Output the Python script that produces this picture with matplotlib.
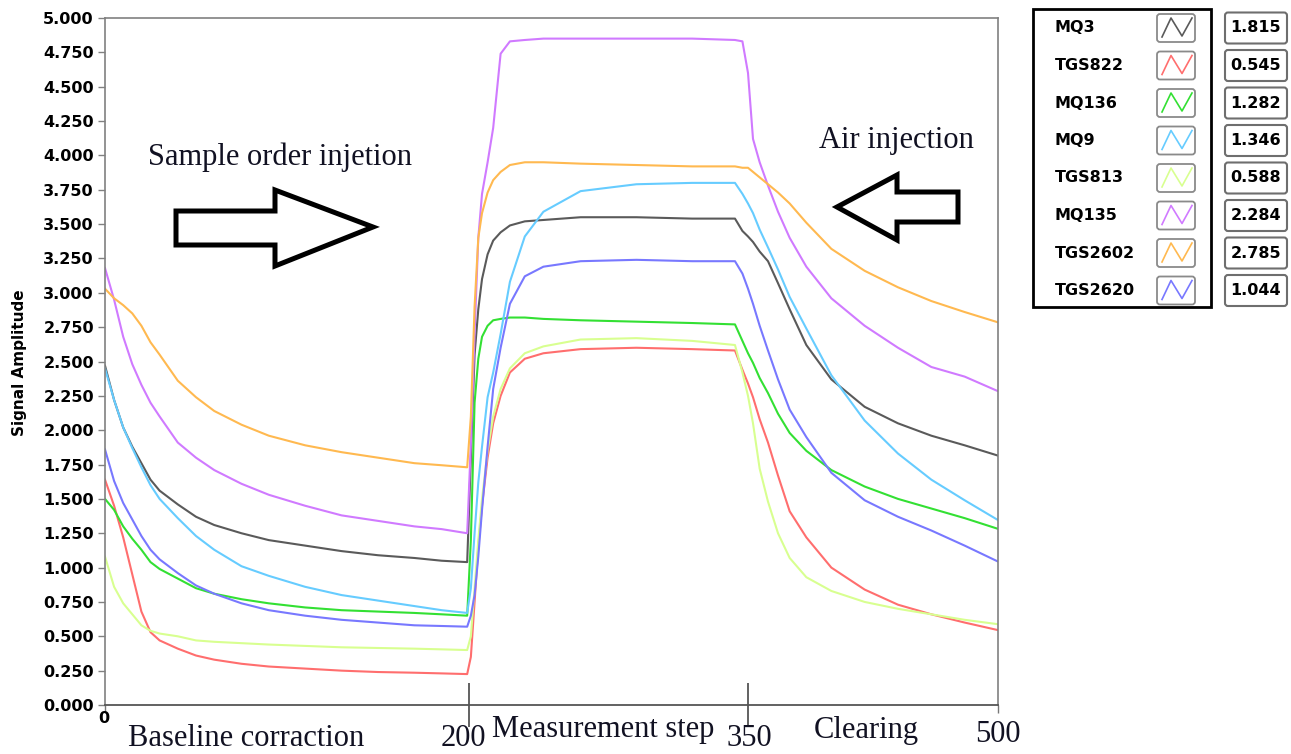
import numpy as np
import matplotlib
matplotlib.use("Agg")
import matplotlib.pyplot as plt
from matplotlib import transforms
from matplotlib.patches import Polygon, Rectangle, FancyBboxPatch
from matplotlib.lines import Line2D

W, H = 1291, 754

# time axis (samples) shared by all sensors
t = [0, 5, 10, 15, 20, 25, 30, 40, 50, 60, 75, 90, 110, 130, 150, 170, 185, 199,
     201, 203, 205, 207, 210, 213, 217, 222, 230, 240, 260, 290, 320, 343,
     347, 350, 353, 357, 362, 368, 375, 385, 400, 420, 440, 460, 480, 500]

mq3 = [2.47, 2.22, 2.02, 1.88, 1.76, 1.64, 1.56, 1.46, 1.37, 1.31, 1.25, 1.20, 1.16, 1.12, 1.09, 1.07, 1.05, 1.04,
       1.80, 2.55, 2.88, 3.10, 3.28, 3.38, 3.44, 3.49, 3.52, 3.53, 3.55, 3.55, 3.54, 3.54,
       3.45, 3.41, 3.37, 3.30, 3.23, 3.07, 2.88, 2.62, 2.37, 2.17, 2.05, 1.96, 1.89, 1.815]
tgs822 = [1.64, 1.45, 1.22, 0.95, 0.68, 0.53, 0.47, 0.41, 0.36, 0.33, 0.30, 0.28, 0.265, 0.25, 0.24, 0.235, 0.23, 0.225,
          0.35, 0.75, 1.15, 1.45, 1.80, 2.05, 2.25, 2.42, 2.52, 2.56, 2.59, 2.60, 2.59, 2.58,
          2.44, 2.34, 2.24, 2.08, 1.91, 1.67, 1.41, 1.22, 1.00, 0.84, 0.73, 0.66, 0.60, 0.545]
mq136 = [1.50, 1.42, 1.30, 1.21, 1.13, 1.04, 0.99, 0.92, 0.85, 0.81, 0.77, 0.74, 0.71, 0.69, 0.68, 0.67, 0.66, 0.65,
         1.20, 2.20, 2.52, 2.68, 2.76, 2.80, 2.81, 2.82, 2.82, 2.81, 2.80, 2.79, 2.78, 2.77,
         2.65, 2.56, 2.49, 2.38, 2.27, 2.12, 1.98, 1.85, 1.71, 1.59, 1.50, 1.43, 1.36, 1.282]
mq9 = [2.45, 2.22, 2.02, 1.87, 1.73, 1.60, 1.50, 1.36, 1.23, 1.13, 1.01, 0.94, 0.86, 0.80, 0.76, 0.72, 0.69, 0.67,
       0.85, 1.25, 1.62, 1.88, 2.24, 2.42, 2.70, 3.08, 3.41, 3.59, 3.74, 3.79, 3.80, 3.80,
       3.72, 3.65, 3.58, 3.46, 3.33, 3.17, 2.97, 2.74, 2.40, 2.07, 1.83, 1.64, 1.49, 1.346]
tgs813 = [1.08, 0.86, 0.74, 0.66, 0.58, 0.54, 0.52, 0.50, 0.47, 0.46, 0.45, 0.44, 0.43, 0.42, 0.415, 0.41, 0.405, 0.40,
          0.50, 0.85, 1.20, 1.50, 1.85, 2.10, 2.30, 2.45, 2.56, 2.61, 2.66, 2.67, 2.65, 2.62,
          2.42, 2.25, 2.05, 1.72, 1.48, 1.25, 1.07, 0.93, 0.83, 0.75, 0.70, 0.66, 0.62, 0.588]
mq135 = [3.18, 2.95, 2.68, 2.48, 2.33, 2.20, 2.10, 1.91, 1.80, 1.71, 1.61, 1.53, 1.45, 1.38, 1.34, 1.30, 1.28, 1.25,
         1.90, 2.70, 3.40, 3.72, 3.95, 4.20, 4.74, 4.83, 4.84, 4.85, 4.85, 4.85, 4.85, 4.84,
         4.83, 4.60, 4.12, 3.95, 3.78, 3.59, 3.40, 3.19, 2.96, 2.76, 2.60, 2.46, 2.39, 2.284]
tgs2602 = [3.03, 2.96, 2.91, 2.85, 2.76, 2.64, 2.55, 2.36, 2.24, 2.14, 2.04, 1.96, 1.89, 1.84, 1.80, 1.76, 1.745, 1.73,
           2.10, 2.90, 3.40, 3.58, 3.73, 3.82, 3.88, 3.93, 3.95, 3.95, 3.94, 3.93, 3.92, 3.92,
           3.91, 3.91, 3.88, 3.84, 3.79, 3.73, 3.65, 3.51, 3.32, 3.16, 3.04, 2.94, 2.86, 2.785]
tgs2620 = [1.86, 1.63, 1.47, 1.35, 1.23, 1.13, 1.06, 0.96, 0.87, 0.81, 0.74, 0.69, 0.65, 0.62, 0.60, 0.58, 0.575, 0.57,
           0.65, 0.80, 1.08, 1.42, 1.88, 2.30, 2.60, 2.92, 3.12, 3.19, 3.23, 3.24, 3.23, 3.23,
           3.14, 3.03, 2.92, 2.76, 2.58, 2.37, 2.15, 1.95, 1.69, 1.49, 1.37, 1.27, 1.16, 1.044]

sensors = ["MQ3", "TGS822", "MQ136", "MQ9", "TGS813", "MQ135", "TGS2602", "TGS2620"]
series = [mq3, tgs822, mq136, mq9, tgs813, mq135, tgs2602, tgs2620]
colors = ["#5a5a5a", "#ff6e6e", "#33e033", "#66ccff", "#d8ff90", "#d07aff", "#ffb950", "#7878ff"]

y_ticks = np.arange(0, 5.001, 0.25)
phase_ticks = [200, 350]

# the phases are not drawn to the same width in the original: piecewise linear x scale
phase_edges = [0, 200, 350, 500]
phase_span = [0, 364, 643, 893]

def fwd(x):
    return np.interp(x, phase_edges, phase_span)

def inv(x):
    return np.interp(x, phase_span, phase_edges)

SERIF = "Liberation Serif"
SANS = "DejaVu Sans"

fig = plt.figure(figsize=(W / 100, H / 100), dpi=100)
ax = fig.add_axes([105 / W, 1 - 705 / H, (998 - 105) / W, (705 - 18) / H])
ax.set_xscale("function", functions=(fwd, inv))

for name, vals, c in zip(sensors, series, colors):
    ax.plot(t, vals, color=c, lw=1.5, label=name)

ax.set_xlim(0, 500)
ax.set_ylim(0, 5)
ax.set_yticks(y_ticks)
ax.set_yticklabels([f"{v:.3f}" for v in y_ticks], fontweight="bold", fontsize=11.5, family=SANS)
ax.tick_params(axis="y", direction="out", length=5, width=1, color="#808080", pad=3)

ax.set_xticks(phase_ticks)
ax.set_xticklabels([])
ax.tick_params(axis="x", which="major", direction="inout", length=32, width=1.3, color="#555555")
ax.set_xticks([0, 500], minor=True)
ax.set_xticklabels([], minor=True)
ax.tick_params(axis="x", which="minor", direction="out", length=6, width=1, color="#777777")

for side in ["left", "top", "right"]:
    ax.spines[side].set_color("#808080")
    ax.spines[side].set_linewidth(1.2)
ax.spines["bottom"].set_color("#555555")
ax.spines["bottom"].set_linewidth(1.3)

# pixel helper: (x, y from top) -> figure fraction
def px(x, y):
    return x / W, 1 - y / H

pix = transforms.Affine2D().scale(1 / W, 1 / H) + fig.transFigure

fig.text(*px(20, 363), "Signal Amplitude", rotation=90, fontsize=11, fontweight="bold",
         family=SANS, ha="center", va="center")

# x axis labels
fig.text(*px(104, 723), "0", fontsize=11.5, fontweight="bold", family=SANS, ha="center", va="baseline")
for s, x, y in [("Baseline corraction", 246, 746), ("200", 463, 746), ("Measurement step", 603, 737),
                ("350", 749, 746), ("Clearing", 866, 738), ("500", 998, 742)]:
    fig.text(*px(x, y), s, fontsize=22, family=SERIF, ha="center", va="baseline", color="#111122")

fig.text(*px(280, 165), "Sample order injetion", fontsize=22, family=SERIF, ha="center",
         va="baseline", color="#111122")
fig.text(*px(896, 148), "Air injection", fontsize=22, family=SERIF, ha="center",
         va="baseline", color="#111122")

# outline arrows
right_arrow = [(176, 211), (275, 211), (275, 190), (373, 227), (275, 266), (275, 245), (176, 245)]
left_arrow = [(837, 207), (897, 175), (897, 192), (958, 192), (958, 222), (897, 222), (897, 240)]
for pts in (right_arrow, left_arrow):
    fig.patches.append(Polygon([(x, H - y) for x, y in pts], closed=True, transform=pix,
                               facecolor="white", edgecolor="black", lw=3.6, joinstyle="miter"))

# legend panel
fig.patches.append(Rectangle((1033, H - 307), 178, 298, transform=pix, fill=False,
                             edgecolor="black", lw=2))
for i, (name, vals, c) in enumerate(zip(sensors, series, colors)):
    yc = 28 + i * 37.5
    fig.text(*px(1055, yc), name, fontsize=11.5, fontweight="bold", family=SANS,
             ha="left", va="center")
    fig.patches.append(FancyBboxPatch((1157, H - yc - 14), 38, 28, transform=pix,
                                      boxstyle="round,pad=0,rounding_size=3",
                                      facecolor="white", edgecolor="#8a8a8a", lw=1.3))
    zx = [1162, 1171, 1182, 1192]
    zy = [yc + 9, yc - 10, yc + 8, yc - 10]
    fig.lines.append(Line2D(zx, [H - y for y in zy], transform=pix, color=c, lw=1.2))
    fig.patches.append(FancyBboxPatch((1225, H - yc - 15.5), 62, 31, transform=pix,
                                      boxstyle="round,pad=0,rounding_size=3",
                                      facecolor="white", edgecolor="#6e6e6e", lw=1.5))
    fig.text(*px(1256, yc), f"{vals[-1]:.3f}", fontsize=11.5, fontweight="bold", family=SANS,
             ha="center", va="center")

fig.savefig("out.png", dpi=100)
